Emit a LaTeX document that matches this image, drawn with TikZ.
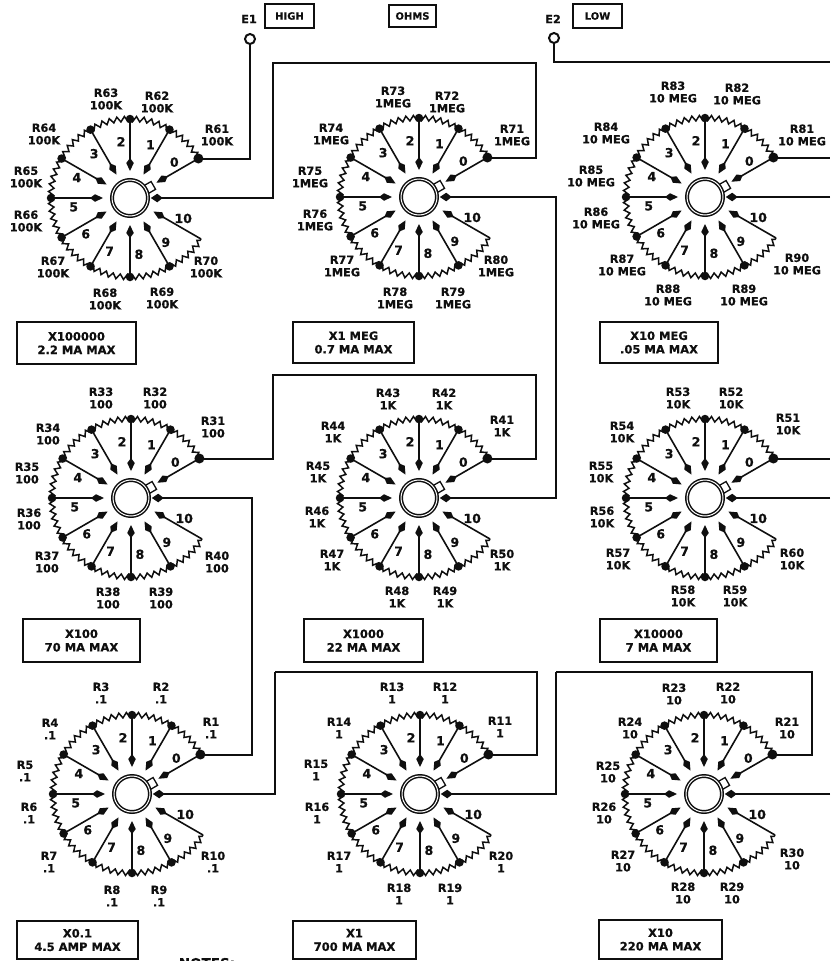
\documentclass[tikz,border=0pt]{standalone}
\usepackage{fontspec}
\setmainfont{DejaVu Sans}[BoldFeatures={FakeBold=0.6}]
\usetikzlibrary{arrows.meta,decorations.pathmorphing,calc}
\definecolor{ink}{HTML}{0F0F0F}
\tikzset{
  resistor/.style={draw=ink,line width=1.5pt,decorate,decoration={zigzag,segment length=7.4pt,amplitude=2.6pt}},
  spoke/.style={draw=ink,line width=1.6pt,-{Kite[length=13pt,width=7.5pt,inset=5pt]}},
  wire/.style={draw=ink,line width=2pt},
  hubarrow/.style={-{Kite[length=12pt,width=8.5pt,inset=5.5pt]},shorten >=2pt},
  rimdot/.style={circle,fill=ink,inner sep=0pt,minimum size=8.5pt},
  bigdot/.style={circle,fill=ink,inner sep=0pt,minimum size=10pt},
  hub/.style={circle,draw=ink,fill=white,line width=1.5pt,double=white,double distance=1pt,inner sep=0pt,minimum size=36pt},
  tab/.style={rectangle,draw=ink,fill=white,line width=1.3pt,inner sep=0pt,minimum size=9pt},
  poslabel/.style={font=\fontsize{12.5}{13}\selectfont\bfseries,text=ink,inner sep=0pt},
  rlabel/.style={font=\fontsize{11.3}{12.5}\selectfont\bfseries,text=ink,align=center,inner sep=0pt},
  rangebox/.style={draw=ink,line width=1.9pt,fill=white,font=\fontsize{11.5}{13.5}\selectfont\bfseries,text=ink,align=center,inner sep=0pt},
  headbox/.style={draw=ink,line width=1.8pt,font=\fontsize{10}{12}\selectfont\bfseries,text=ink,inner sep=0pt},
  terminal/.style={circle,draw=ink,fill=white,line width=2pt,inner sep=0pt,minimum size=10pt},
}
\newcommand{\rotsw}[3]{%
  \begin{scope}[shift={(#2,-#3)}]
    \foreach \i in {0,...,9}{%
      \pgfmathsetmacro\ang{30+30*\i}
      \ifnum\i=0 \node[bigdot] (#1-r\i) at (\ang:79) {};
      \else \node[rimdot] (#1-r\i) at (\ang:79) {};\fi
      \coordinate (#1-t\i) at (\ang:27);
    }
    \coordinate (#1-r10) at (330:82);
    \coordinate (#1-t10) at (330:27);
    \coordinate (#1-t0) at (30:30.5);
    \foreach \i in {0,...,9}{%
      \pgfmathtruncatemacro\nxt{\i+1}
      \draw[resistor] (#1-r\i.center) to[bend right=15] (#1-r\nxt.center);
    }
    \foreach \i in {0,...,10}{%
      \draw[spoke] (#1-r\i.center) -- (#1-t\i);
      \pgfmathsetmacro\lang{39+30*\i}
      \node[poslabel] (#1-n\i) at (\lang:57) {\i};
    }
    \node[tab,rotate=30] (#1-tab) at (28:22) {};
    \node[hub] (#1-hub) at (0,0) {};
  \end{scope}
}
\begin{document}
\begin{tikzpicture}[x=1pt,y=1pt]
\useasboundingbox (0,0) rectangle (830,-961);
\fill[white] (0,0) rectangle (830,-961);

\rotsw{TA}{130}{198}
\rotsw{TB}{419}{197}
\rotsw{TC}{705}{197}
\rotsw{MA}{131}{498}
\rotsw{MB}{419}{498}
\rotsw{MC}{705}{498}
\rotsw{BA}{132}{794}
\rotsw{BB}{420}{794}
\rotsw{BC}{704}{794}

% resistor labels
\foreach \n/\x/\y/\ra/\rb in {
 R61/217/135/R61/100K, R62/157/102/R62/100K, R63/106/99/R63/100K, R64/44/134/R64/100K, R65/26/177/R65/100K,
 R66/26/221/R66/100K, R67/53/267/R67/100K, R68/105/299/R68/100K, R69/162/298/R69/100K, R70/206/267/R70/100K,
 R71/512/135/R71/1MEG, R72/447/102/R72/1MEG, R73/393/97/R73/1MEG, R74/331/134/R74/1MEG, R75/310/177/R75/1MEG,
 R76/315/220/R76/1MEG, R77/342/266/R77/1MEG, R78/395/298/R78/1MEG, R79/453/298/R79/1MEG, R80/496/266/R80/1MEG,
 R81/802/135/R81/10 MEG, R82/737/94/R82/10 MEG, R83/673/92/R83/10 MEG, R84/606/133/R84/10 MEG, R85/591/176/R85/10 MEG,
 R86/596/218/R86/10 MEG, R87/622/265/R87/10 MEG, R88/668/295/R88/10 MEG, R89/744/295/R89/10 MEG, R90/797/264/R90/10 MEG,
 R31/213/427/R31/100, R32/155/398/R32/100, R33/101/398/R33/100, R34/48/434/R34/100, R35/27/473/R35/100,
 R36/29/519/R36/100, R37/47/562/R37/100, R38/108/598/R38/100, R39/161/598/R39/100, R40/217/562/R40/100,
 R41/502/426/R41/1K, R42/444/399/R42/1K, R43/388/399/R43/1K, R44/333/432/R44/1K, R45/318/472/R45/1K,
 R46/317/517/R46/1K, R47/332/560/R47/1K, R48/397/597/R48/1K, R49/445/597/R49/1K, R50/502/560/R50/1K,
 R51/788/424/R51/10K, R52/731/398/R52/10K, R53/678/398/R53/10K, R54/622/432/R54/10K, R55/601/472/R55/10K,
 R56/602/517/R56/10K, R57/618/559/R57/10K, R58/683/596/R58/10K, R59/735/596/R59/10K, R60/792/559/R60/10K,
 R1/211/728/R1/.1, R2/161/693/R2/.1, R3/101/693/R3/.1, R4/50/729/R4/.1, R5/25/771/R5/.1,
 R6/29/813/R6/.1, R7/49/862/R7/.1, R8/112/896/R8/.1, R9/159/896/R9/.1, R10/213/862/R10/.1,
 R11/500/727/R11/1, R12/445/693/R12/1, R13/392/693/R13/1, R14/339/728/R14/1, R15/316/770/R15/1,
 R16/317/813/R16/1, R17/339/862/R17/1, R18/399/894/R18/1, R19/450/894/R19/1, R20/501/862/R20/1,
 R21/787/728/R21/10, R22/728/693/R22/10, R23/674/694/R23/10, R24/630/728/R24/10, R25/608/772/R25/10,
 R26/604/813/R26/10, R27/623/861/R27/10, R28/683/893/R28/10, R29/732/893/R29/10, R30/792/859/R30/10}{
  \node[rlabel] (\n) at (\x,-\y) {\ra\\\rb};
}

% range boxes
\node[rangebox,minimum width=119pt,minimum height=42pt] (rTA) at (76.5,-343) {X100000\\2.2 MA MAX};
\node[rangebox,minimum width=121pt,minimum height=41pt] (rTB) at (353.5,-342.5) {X1 MEG\\0.7 MA MAX};
\node[rangebox,minimum width=118pt,minimum height=41pt] (rTC) at (659,-342.5) {X10 MEG\\.05 MA MAX};
\node[rangebox,minimum width=117pt,minimum height=43pt] (rMA) at (81.5,-640.5) {X100\\70 MA MAX};
\node[rangebox,minimum width=119pt,minimum height=43pt] (rMB) at (363.5,-640.5) {X1000\\22 MA MAX};
\node[rangebox,minimum width=117pt,minimum height=43pt] (rMC) at (658.5,-640.5) {X10000\\7 MA MAX};
\node[rangebox,minimum width=121pt,minimum height=38pt] (rBA) at (77.5,-940) {X0.1\\4.5 AMP MAX};
\node[rangebox,minimum width=123pt,minimum height=38pt] (rBB) at (354.5,-940) {X1\\700 MA MAX};
\node[rangebox,minimum width=123pt,minimum height=39pt] (rBC) at (660.5,-939.5) {X10\\220 MA MAX};

% header
\node[headbox,minimum width=49pt,minimum height=24pt] (high) at (289.5,-16) {HIGH};
\node[headbox,minimum width=47pt,minimum height=22pt] (ohms) at (412.5,-16) {OHMS};
\node[headbox,minimum width=49pt,minimum height=24pt] (low) at (597.5,-16) {LOW};
\node[rlabel] (e1lab) at (249,-19) {E1};
\node[rlabel] (e2lab) at (553,-19) {E2};
\node[terminal] (E1) at (250,-39) {};
\node[terminal] (E2) at (554,-38) {};
\node[rlabel,font=\fontsize{13.5}{15}\selectfont\bfseries,anchor=base] (notes) at (207,-968) {NOTES:};

% junctions
\coordinate (edge) at (830,0);
\coordinate (j1) at (273,-63);
\coordinate (j2) at (536,-63);
\coordinate (j3) at (556,-197);
\coordinate (j4) at (536,-375);
\coordinate (j5) at (273,-375);
\coordinate (j6) at (252,-498);
\coordinate (j7) at (275,-672);
\coordinate (j8) at (537,-672);
\coordinate (j9) at (556,-672);
\coordinate (j10) at (812,-672);
\coordinate (e2c) at (554,-62);

% wiring
\draw[wire] (E1) |- (TA-r0.center);
\draw[wire,hubarrow] (TB-r0.center) -| (j2) -- (j1) |- (TA-hub.east);
\draw[wire,hubarrow] (MB-hub.east -| j3) -- (j3) -- (TB-hub.east);
\draw[wire,hubarrow] (j3) |- (MB-hub.east);
\draw[wire] (MB-r0.center) -| (j4) -- (j5) |- (MA-r0.center);
\draw[wire,hubarrow] (BA-r0.center) -| (j6) |- (MA-hub.east);
\draw[wire] (BB-r0.center) -| (j8) -- (j7);
\draw[wire,hubarrow] (j7) |- (BA-hub.east);
\draw[wire] (BC-r0.center) -| (j10) -- (j9);
\draw[wire,hubarrow] (j9) |- (BB-hub.east);
\draw[wire] (E2) -- (e2c) -- (e2c -| edge);
\draw[wire] (TC-r0.center) -- (TC-r0.center -| edge);
\draw[wire,hubarrow] (TC-hub.east -| edge) -- (TC-hub.east);
\draw[wire] (MC-r0.center) -- (MC-r0.center -| edge);
\draw[wire,hubarrow] (MC-hub.east -| edge) -- (MC-hub.east);
\draw[wire,hubarrow] (BC-hub.east -| edge) -- (BC-hub.east);
\end{tikzpicture}
\end{document}
